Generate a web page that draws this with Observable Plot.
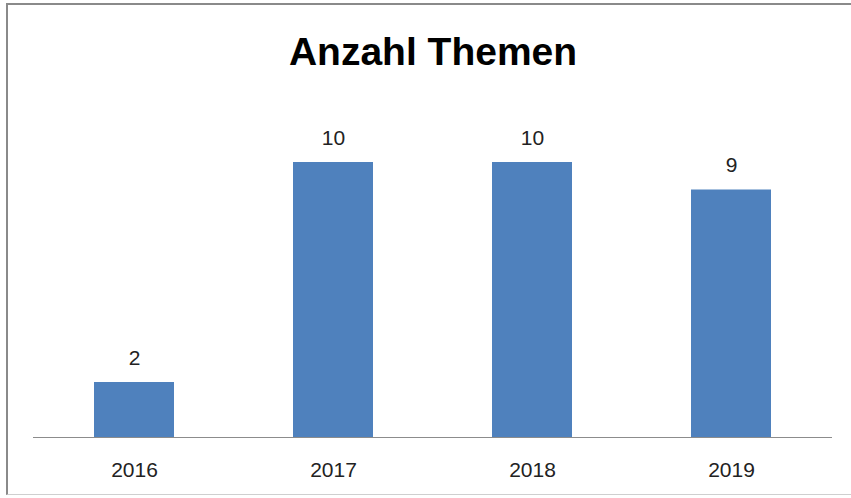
<!DOCTYPE html>
<html>
<head>
<meta charset="utf-8">
<script src="https://cdn.jsdelivr.net/npm/d3@7"></script>
<script src="https://cdn.jsdelivr.net/npm/@observablehq/plot@0.6"></script>
<style>
  html, body { margin: 0; padding: 0; background: #fff; }
  #wrap { position: relative; width: 851px; height: 498px; overflow: hidden; background: #fff; }
  #title { box-sizing: border-box; height: 100px; width: 866px; padding-top: 32px; text-align: center;
           font-family: "Liberation Sans", Arial, sans-serif; font-weight: bold; font-size: 39px; line-height: 40px; color: #000; }
  #frame { position: absolute; left: 6px; top: 3px; width: 900px; height: 492px; box-sizing: border-box;
           border-left: 2px solid #8a8a8a; border-top: 2px solid #8a8a8a; border-bottom: 1px solid #cfcfcf; pointer-events: none; }
  #chart svg { display: block; }
</style>
</head>
<body>
<div id="wrap">
  <div id="title">Anzahl Themen</div>
  <div id="chart"></div>
  <div id="frame"></div>
</div>
<script>
const years = ["2016", "2017", "2018", "2019"];
const counts = [2, 10, 10, 9];

const data = years.map((y, i) => ({year: y, value: counts[i]}));

const chart = Plot.plot({
  width: 851,
  height: 398,
  marginTop: 62,
  marginBottom: 61,
  marginLeft: 33,
  marginRight: 19,
  style: {fontFamily: "'Liberation Sans', Arial, sans-serif", color: "#222", background: "transparent"},
  x: {domain: years, paddingInner: 0.6, paddingOuter: 0.3, label: null},
  y: {domain: [0, 10], axis: null},
  marks: [
    Plot.barY(data, {x: "year", y: "value", fill: "#4F81BD"}),
    Plot.ruleY([0], {stroke: "#8c8c8c", strokeWidth: 1}),
    Plot.axisX({tickSize: 0, tickPadding: 25, fontSize: 21, fill: "#222", label: null}),
    Plot.text(data, {x: "year", y: "value", text: d => String(d.value), lineAnchor: "bottom", dy: -18, fontSize: 21, fill: "#222"})
  ]
});
document.getElementById("chart").appendChild(chart);
</script>
</body>
</html>
